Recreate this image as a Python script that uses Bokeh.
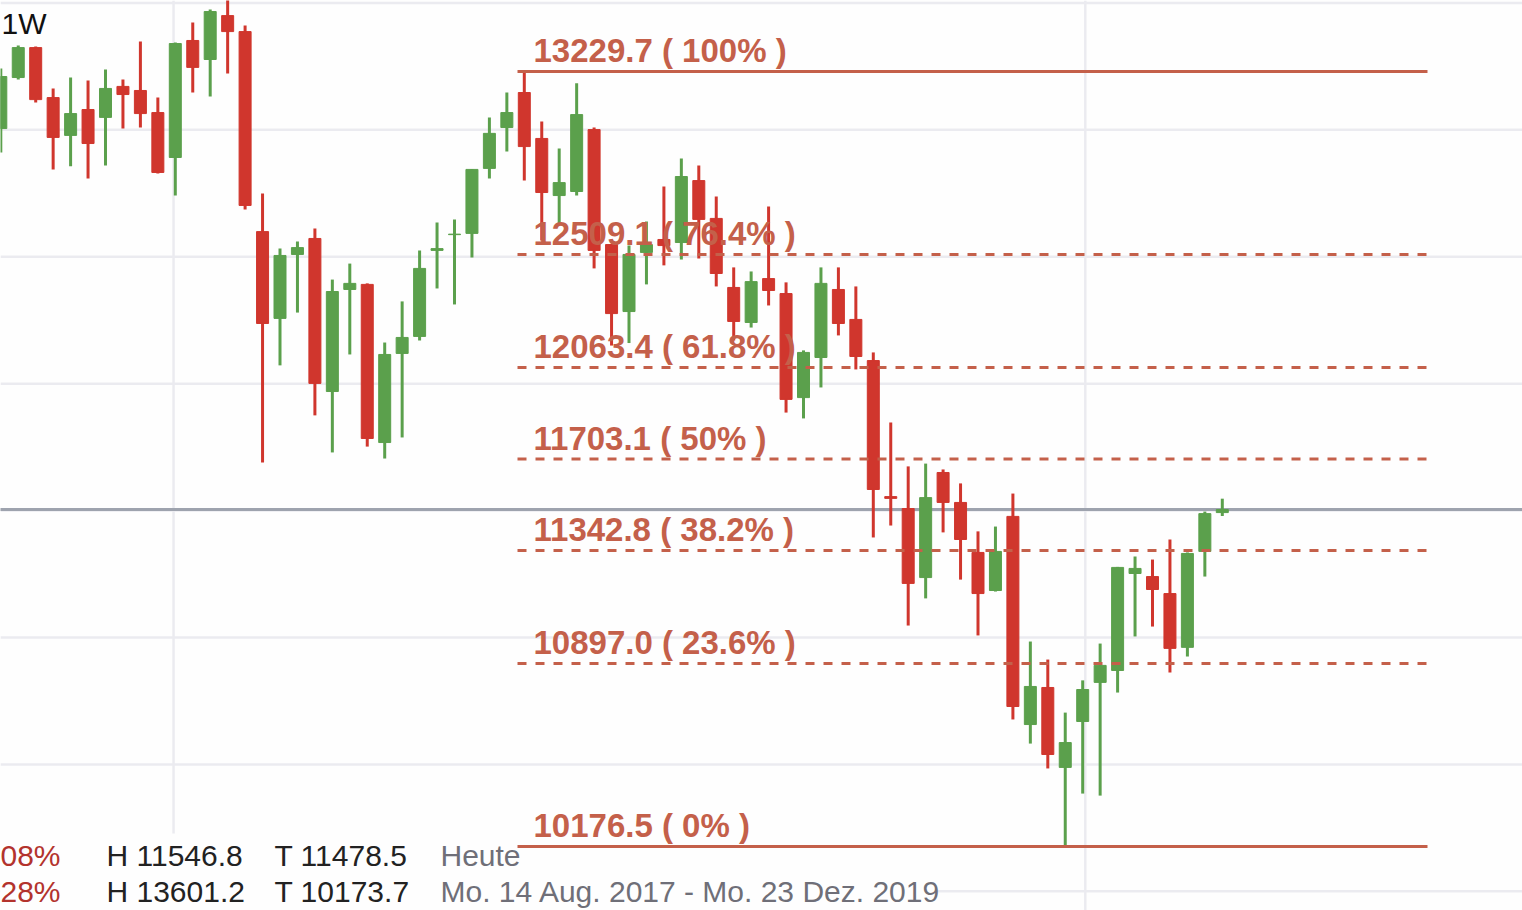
from bokeh.plotting import figure
from bokeh.models import Range1d, Span, ColumnDataSource
from bokeh.core.properties import value
from bokeh.embed import file_html
from bokeh.resources import INLINE

# ---------------- data (weekly candles) ----------------
opens = [13005, 13206, 13324, 13127, 12978, 13080, 13049, 13171, 13155, 13068,
         12891, 13352, 13277, 13450, 13387, 12599, 12257, 12509, 12572, 11969,
         12371, 12391, 11768, 12119, 12186, 12525, 12587, 12592, 12848, 13009,
         13147, 12966, 12741, 12757, 13001, 12548, 12284, 12517, 12568, 12556,
         12800, 12651, 12379, 12241, 12414, 12355, 11945, 12103, 12371, 12253,
         12091, 11555, 11508, 11236, 11650, 11532, 11335, 11185, 11477, 10657,
         10803, 10488, 10669, 10823, 10870, 11252, 11240, 11173, 10961, 11339,
         11492]
closes = [13210, 13324, 13119, 12970, 13064, 12946, 13163, 13139, 13064, 12832,
          13340, 13246, 13466, 13387, 12702, 12237, 12505, 12536, 12001, 12363,
          12395, 11784, 12115, 12182, 12454, 12532, 12589, 12844, 12986, 13068,
          12934, 12753, 12792, 13060, 12525, 12276, 12509, 12548, 12544, 12816,
          12647, 12434, 12245, 12402, 12367, 11938, 12123, 12395, 12237, 12107,
          11583, 11548, 11213, 11551, 11532, 11386, 11173, 11339, 10728, 10807,
          10539, 10586, 10795, 10890, 11276, 11272, 11189, 10957, 11331, 11488,
          11504]
highs = [13242, 13332, 13328, 13163, 13206, 13194, 13238, 13198, 13348, 13127,
         13344, 13423, 13474, 13601, 13411, 12749, 12532, 12560, 12611, 12410,
         12473, 12395, 12162, 12324, 12525, 12635, 12647, 12846, 13049, 13147,
         13229.7, 13033, 12926, 13183, 13009, 12550, 12544, 12639, 12777, 12887,
         12859, 12737, 12458, 12442, 12698, 12399, 12131, 12458, 12458, 12383,
         12123, 11847, 11674, 11685, 11662, 11607, 11418, 11437, 11567, 10984,
         10913, 10704, 10831, 10976, 11278, 11319, 11307, 11386, 11335, 11496,
         11546.8]
lows = [12911, 13198, 13108, 12844, 12856, 12808, 12859, 13005, 13009, 12828,
        12741, 13147, 13131, 13222, 12686, 11689, 12072, 12280, 11875, 11729,
        12115, 11752, 11705, 11788, 12170, 12375, 12312, 12497, 12808, 12915,
        12800, 12564, 12631, 12741, 12454, 12150, 12160, 12391, 12466, 12489,
        12493, 12383, 12170, 12221, 12308, 11886, 11863, 11985, 12190, 12056,
        11394, 11441, 11047, 11154, 11414, 11228, 11008, 11181, 10677, 10582,
        10484, 10176.5, 10385, 10377, 10783, 11004, 11043, 10862, 10925, 11240,
        11478.5]

fib_levels = [13229.7, 12509.1, 12063.4, 11703.1, 11342.8, 10897.0, 10176.5]
fib_pcts = ["100%", "76.4%", "61.8%", "50%", "38.2%", "23.6%", "0%"]
fib_solid = [True, False, False, False, False, False, True]

grid_prices = [10000, 10500, 11000, 11500, 12000, 12500, 13000, 13500]
year_start_weeks = [9.9, 62.15]
last_price = 11504.0
timeframe = "1W"

row1 = ["08%", "H 11546.8", "T 11478.5", "Heute"]
row2 = ["28%", "H 13601.2", "T 10173.7", "Mo. 14 Aug. 2017 - Mo. 23 Dez. 2019"]

# ---------------- layout helpers (reference pixels -> data) -----------------
X0, DX = 0.3, 17.45          # pixel x of week 0, px per week
Y0, KY = 846.0, 3.9397        # pixel y of 10176.5, points per px
P0 = 10176.5


def sx(px):
    return (px - X0) / DX


def sy(py):
    return P0 + (Y0 - py) * KY


W, H = 1522, 910
GREEN = "#5ba04c"
RED = "#d0362d"
FIB = "#c4604a"
GRID = "#ebebf0"
BG = "#fefefe"

p = figure(width=W, height=H, output_backend="svg", toolbar_location=None,
           x_range=Range1d(sx(0), sx(W)), y_range=Range1d(sy(H), sy(0)),
           min_border=0, min_border_left=0, min_border_right=0,
           min_border_top=0, min_border_bottom=0,
           background_fill_color=BG, border_fill_color=BG)
p.xaxis.visible = False
p.yaxis.visible = False
p.grid.visible = False
p.outline_line_color = None

# grid
for g in grid_prices:
    p.add_layout(Span(location=g, dimension="width", line_color=GRID, line_width=2.5, level="underlay"))
for w in year_start_weeks:
    p.add_layout(Span(location=w, dimension="height", line_color=GRID, line_width=2.5, level="underlay"))

# info box background at the bottom
p.quad(left=[sx(-10)], right=[sx(935)], bottom=[sy(920)], top=[sy(833)],
       fill_color=BG, line_color=None)

# last price line
p.segment(x0=[sx(-10)], x1=[sx(1540)], y0=[last_price], y1=[last_price],
          line_color="#9ea3ae", line_width=3)

# candles
idx = list(range(len(opens)))
cols = [GREEN if c >= o else RED for o, c in zip(opens, closes)]
src = ColumnDataSource(dict(x=idx, o=opens, c=closes, h=highs, l=lows,
                            top=[max(o, c) for o, c in zip(opens, closes)],
                            bot=[min(o, c) for o, c in zip(opens, closes)],
                            col=cols))
p.segment(x0="x", x1="x", y0="l", y1="h", line_color="col", line_width=3, source=src)
p.vbar(x="x", width=12 / DX, top="top", bottom="bot", fill_color="col",
       line_color="col", line_width=1, source=src)

# fibonacci lines
fx0, fx1 = sx(517), sx(1427)
for lvl, solid in zip(fib_levels, fib_solid):
    p.segment(x0=[fx0], x1=[fx1], y0=[lvl], y1=[lvl], line_color=FIB,
              line_width=3, line_dash="solid" if solid else "9 9")

labels = [f"{lvl:.1f} ( {pc} )" for lvl, pc in zip(fib_levels, fib_pcts)]
p.text(x=[sx(533)] * len(labels), y=[lvl + 21 * KY for lvl in fib_levels], text=labels,
       text_color=FIB, text_font=value("Liberation Sans"), text_font_style="bold",
       text_font_size=value("33px"), text_baseline="alphabetic", text_align="left")

# timeframe label
p.text(x=[sx(1)], y=[sy(23)], text=[timeframe], text_color="#111111",
       text_font=value("Liberation Sans"), text_font_size=value("30px"),
       text_baseline="alphabetic")

# bottom info rows
xs = [0, 106, 274, 440]
row_colors = ["#b3332d", "#222222", "#222222", "#6f6f78"]
for row, base in ((row1, 855), (row2, 891)):
    p.text(x=[sx(v) for v in xs], y=[sy(base)] * 4, text=row,
           text_color=row_colors, text_font=value("Liberation Sans"),
           text_font_size=value("30px"), text_baseline="alphabetic")

open("out.html", "w").write(file_html(p, INLINE))
